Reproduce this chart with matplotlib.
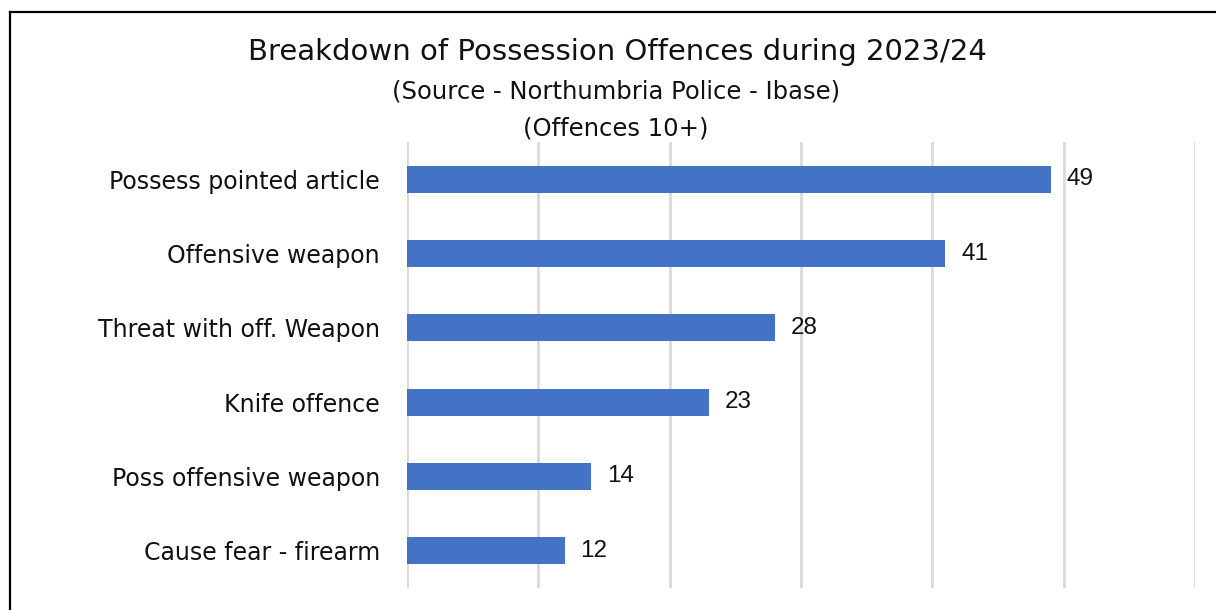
import matplotlib.pyplot as plt
from matplotlib.lines import Line2D

categories = ["Possess pointed article", "Offensive weapon", "Threat with off. Weapon",
              "Knife offence", "Poss offensive weapon", "Cause fear - firearm"]
values = [49, 41, 28, 23, 14, 12]
x_ticks = [0, 10, 20, 30, 40, 50, 60]

plt.rcParams['font.family'] = ['DejaVu Sans']

W, H = 1216, 610
fig = plt.figure(figsize=(W / 100, H / 100), dpi=100)
ax = fig.add_axes([407 / W, 1 - 588 / H, (1195 - 407) / W, (588 - 142) / H])

y = list(range(len(categories)))
ax.barh(y, values, height=0.36, color="#4472C4", zorder=3)
for yi, v in zip(y, values):
    ax.text(v + 1.2, yi, str(v), va="center", ha="left", fontsize=17.5,
            family="Liberation Sans", color="#111111")

ax.set_ylim(len(categories) - 0.5, -0.5)
ax.set_xlim(0, 60)
ax.set_yticks(y)
ax.set_yticklabels(categories, fontsize=17, color="#111111")
for lbl in ax.get_yticklabels():
    lbl.set_verticalalignment("center_baseline")
ax.set_xticks(x_ticks)
ax.tick_params(axis="x", bottom=False, labelbottom=False)
ax.tick_params(axis="y", left=False, length=0, pad=19.5)
ax.grid(axis="x", color="#d9d9d9", linewidth=2, zorder=0)
for s in ax.spines.values():
    s.set_visible(False)

fig.text(0.5 * (249 + 985) / W, 1 - 52 / H, "Breakdown of Possession Offences during 2023/24",
         ha="center", va="center", fontsize=21, color="#111111")
fig.text(616 / W, 1 - 92 / H, "(Source - Northumbria Police - Ibase)",
         ha="center", va="center", fontsize=17.5, color="#111111")
fig.text(616 / W, 1 - 128 / H, "(Offences 10+)",
         ha="center", va="center", fontsize=17.5, color="#111111")

# outer frame (left and top edges visible)
fig.add_artist(Line2D([9.5 / W, 9.5 / W], [0, 1 - 11.5 / H], color="black", linewidth=1.6,
                      transform=fig.transFigure))
fig.add_artist(Line2D([9.5 / W, 1], [1 - 11.5 / H, 1 - 11.5 / H], color="black", linewidth=1.6,
                      transform=fig.transFigure))

fig.savefig("out.png", dpi=100)
